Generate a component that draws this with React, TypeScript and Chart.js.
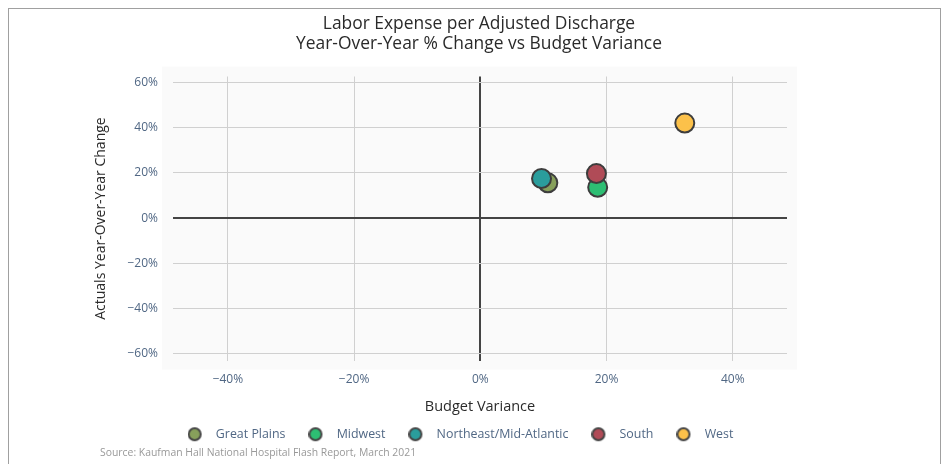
import React, { useEffect, useRef } from "react";
import { Chart, registerables } from "chart.js";

Chart.register(...registerables);

const seriesNames = ["Great Plains", "Midwest", "Northeast/Mid-Atlantic", "South", "West"];
const budgetVariance = [10.7, 18.6, 9.7, 18.4, 32.4];
const yoyChange = [15.6, 13.6, 17.5, 19.7, 42.0];
const seriesColors = ["#87a05b", "#2dbe73", "#2a9d9c", "#b04b57", "#fcc14a"];
const xTicks = [-40, -20, 0, 20, 40];
const yTicks = [-60, -40, -20, 0, 20, 40, 60];
const titleLines = ["Labor Expense per Adjusted Discharge", "Year-Over-Year % Change vs Budget Variance"];
const xTitle = "Budget Variance";
const yTitle = "Actuals Year-Over-Year Change";
const sourceText = "Source: Kaufman Hall National Hospital Flash Report, March 2021";

const FONT = "'Open Sans', 'Noto Sans', sans-serif";
const TICK_COLOR = "#506784";
const TEXT_COLOR = "#2a2a2a";
const W = 931;
const H = 456;

const fmtPct = (v: number) => (v < 0 ? "\u2212" : "") + Math.abs(v) + "%";

export default function App() {
  const ref = useRef<HTMLCanvasElement | null>(null);

  useEffect(() => {
    const canvas = ref.current;
    if (!canvas) return;

    const icons = seriesColors.map((c) => {
      const cv = document.createElement("canvas");
      cv.width = 22;
      cv.height = 16;
      const g = cv.getContext("2d")!;
      g.beginPath();
      g.arc(7, 8, 6, 0, Math.PI * 2);
      g.fillStyle = c;
      g.fill();
      g.lineWidth = 2;
      g.strokeStyle = "#444";
      g.stroke();
      return cv;
    });

    const layoutPlugin = {
      id: "layoutTweaks",
      afterLayout(chart: any) {
        const t = chart.titleBlock;
        if (t) {
          t.left = 9;
          t.right = 931;
          t.width = 922;
        }
        const lg = chart.legend;
        if (lg) {
          const h = lg.height;
          lg.left = 0;
          lg.right = 903;
          lg.width = 903;
          lg.top = 396;
          lg.bottom = 396 + h;
        }
      },
      beforeDraw(chart: any) {
        const { ctx, chartArea: a } = chart;
        ctx.save();
        ctx.fillStyle = "#fafafa";
        ctx.fillRect(a.left - 11, a.top - 10, a.right - a.left + 21, a.bottom - a.top + 19);
        ctx.restore();
      },
      afterDraw(chart: any) {
        const { ctx } = chart;
        ctx.save();
        ctx.font = "10.4px " + FONT;
        ctx.fillStyle = "#999999";
        ctx.textAlign = "left";
        ctx.textBaseline = "middle";
        ctx.fillText(sourceText, 91, 444);
        ctx.restore();
      },
    };

    const chart = new Chart(canvas, {
      type: "scatter",
      data: {
        datasets: seriesNames.map((name, i) => ({
          label: name,
          data: [{ x: budgetVariance[i], y: yoyChange[i] }],
          backgroundColor: seriesColors[i],
          borderColor: "#3d3d3d",
          borderWidth: 2,
          pointRadius: 9.5,
          pointHoverRadius: 9.5,
          pointStyle: "circle",
          order: -i,
        })),
      },
      options: {
        responsive: false,
        animation: false,
        events: [],
        layout: { padding: { left: 80, right: 153, top: 0, bottom: 0 } },
        scales: {
          x: {
            type: "linear",
            min: -48.7,
            max: 48.6,
            afterBuildTicks: (s: any) => {
              s.ticks = xTicks.map((v) => ({ value: v }));
            },
            afterFit: (s: any) => {
              s.height = 59;
            },
            ticks: {
              callback: (v: any) => fmtPct(Number(v)),
              color: TICK_COLOR,
              font: { family: FONT, size: 12 },
              padding: 12,
              maxRotation: 0,
            },
            grid: {
              drawTicks: false,
              color: (c: any) => (c.tick && c.tick.value === 0 ? "#444444" : "#d0d0d0"),
              lineWidth: (c: any) => (c.tick && c.tick.value === 0 ? 2 : 1),
            },
            border: { display: false },
            title: {
              display: true,
              text: xTitle,
              color: TEXT_COLOR,
              font: { family: FONT, size: 14.5 },
            },
          },
          y: {
            type: "linear",
            min: -63,
            max: 62.6,
            afterBuildTicks: (s: any) => {
              s.ticks = yTicks.map((v) => ({ value: v }));
            },
            afterFit: (s: any) => {
              s.width = 84;
            },
            ticks: {
              callback: (v: any) => fmtPct(Number(v)),
              color: TICK_COLOR,
              font: { family: FONT, size: 12 },
              padding: 15,
            },
            grid: {
              drawTicks: false,
              color: (c: any) => (c.tick && c.tick.value === 0 ? "#444444" : "#d0d0d0"),
              lineWidth: (c: any) => (c.tick && c.tick.value === 0 ? 2 : 1),
            },
            border: { display: false },
            title: {
              display: true,
              text: yTitle,
              color: TEXT_COLOR,
              font: { family: FONT, size: 14 },
            },
          },
        },
        plugins: {
          tooltip: { enabled: false },
          title: {
            display: true,
            text: titleLines,
            color: TEXT_COLOR,
            font: { family: FONT, size: 17.4, weight: "normal", lineHeight: 1.15 },
            padding: { top: 5, bottom: 22.5 },
          },
          legend: {
            display: true,
            position: "bottom",
            labels: {
              usePointStyle: true,
              pointStyleWidth: 22,
              boxHeight: 12.4,
              padding: 23,
              color: TICK_COLOR,
              font: { family: FONT, size: 12.4 },
              generateLabels: (ch: any) =>
                Chart.defaults.plugins.legend.labels
                  .generateLabels(ch)
                  .sort((a: any, b: any) => a.datasetIndex - b.datasetIndex)
                  .map((l: any) => ({
                    ...l,
                    pointStyle: icons[l.datasetIndex],
                    fontColor: TICK_COLOR,
                  })),
            },
          },
        },
      } as any,
      plugins: [layoutPlugin],
    });

    return () => chart.destroy();
  }, []);

  return (
    <div
      style={{
        position: "fixed",
        left: 8,
        top: 8,
        width: W,
        height: H,
        border: "1px solid #a0a0a0",
        borderBottom: "none",
        background: "#fff",
      }}
    >
      <canvas ref={ref} width={W} height={H} style={{ display: "block", width: W, height: H }} />
    </div>
  );
}
